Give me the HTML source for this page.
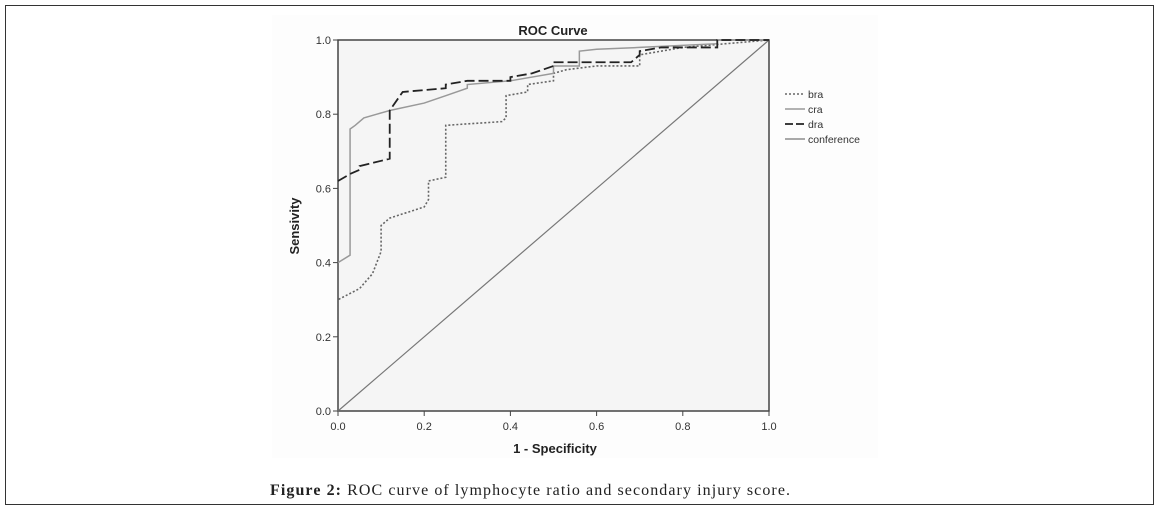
<!DOCTYPE html>
<html><head><meta charset="utf-8"><style>
body{margin:0;background:#fff;width:1159px;height:510px;overflow:hidden}
</style></head><body>
<svg width="1159" height="510" style="position:absolute;left:0;top:0">
<rect x="5.5" y="5.5" width="1148" height="499" fill="#fff" stroke="#333"/>
<rect x="272" y="15" width="606" height="443" fill="#fdfdfd"/>
<rect x="338" y="40" width="431" height="371" fill="#f5f5f5" stroke="#444" stroke-width="1.5"/>
<text x="553" y="35" font-family="Liberation Sans, sans-serif" font-size="13" font-weight="bold" text-anchor="middle" fill="#222">ROC Curve</text>
<g id="axes"></g>
<g id="series"></g>
<text x="555" y="453" font-family="Liberation Sans, sans-serif" font-size="13" font-weight="bold" text-anchor="middle" fill="#222">1 - Specificity</text>
<text transform="translate(299,226) rotate(-90)" font-family="Liberation Sans, sans-serif" font-size="13" font-weight="bold" text-anchor="middle" fill="#222">Sensivity</text>
<g font-family="Liberation Sans, sans-serif" font-size="10.5" fill="#333">
<g><line x1="785" y1="94" x2="805" y2="94" stroke="#666" stroke-width="1.5" stroke-dasharray="2,2"/><text x="808" y="98">bra</text></g>
<g><line x1="785" y1="109" x2="805" y2="109" stroke="#999" stroke-width="1.5"/><text x="808" y="113">cra</text></g>
<g><line x1="785" y1="124" x2="805" y2="124" stroke="#222" stroke-width="1.8" stroke-dasharray="8,3"/><text x="808" y="128">dra</text></g>
<g><line x1="785" y1="139" x2="805" y2="139" stroke="#777" stroke-width="1.2"/><text x="808" y="143">conference</text></g>
</g>
<text x="270" y="495" font-family="Liberation Serif, serif" font-size="16" fill="#222" textLength="520" lengthAdjust="spacing"><tspan font-weight="bold">Figure 2:</tspan> ROC curve of lymphocyte ratio and secondary injury score.</text>
</svg>
<script>
const ticks=[0,0.2,0.4,0.6,0.8,1.0];
const tickLabels=["0.0","0.2","0.4","0.6","0.8","1.0"];
const braX=[0,0,0.05,0.08,0.1,0.1,0.12,0.2,0.21,0.21,0.25,0.25,0.38,0.39,0.39,0.44,0.44,0.5,0.5,0.53,0.6,0.7,0.7,0.8,0.9,1];
const braY=[0,0.30,0.33,0.37,0.43,0.5,0.52,0.55,0.57,0.62,0.63,0.77,0.78,0.79,0.85,0.86,0.88,0.89,0.91,0.92,0.93,0.93,0.96,0.98,0.99,1];
const craX=[0,0.028,0.028,0.04,0.06,0.09,0.12,0.2,0.25,0.3,0.3,0.4,0.5,0.5,0.56,0.56,0.6,0.7,0.88,0.88,1];
const craY=[0.40,0.42,0.76,0.77,0.79,0.80,0.81,0.83,0.85,0.87,0.88,0.89,0.91,0.93,0.93,0.97,0.975,0.98,0.99,1,1];
const draX=[0,0.03,0.05,0.05,0.12,0.12,0.15,0.25,0.25,0.3,0.4,0.4,0.45,0.5,0.5,0.68,0.7,0.7,0.75,0.88,0.88,1];
const draY=[0.62,0.64,0.65,0.66,0.68,0.81,0.86,0.87,0.88,0.89,0.89,0.90,0.91,0.93,0.94,0.94,0.96,0.97,0.98,0.98,1,1];
const refX=[0,1], refY=[0,1];
const NS="http://www.w3.org/2000/svg";
const sx=v=>338+v*431, sy=v=>411-v*371;
const axes=document.getElementById('axes');
ticks.forEach((t,i)=>{
 let l=document.createElementNS(NS,'line');
 l.setAttribute('x1',sx(t));l.setAttribute('x2',sx(t));l.setAttribute('y1',411);l.setAttribute('y2',416);l.setAttribute('stroke','#444');
 
 
 axes.appendChild(l);
 let tx=document.createElementNS(NS,'text');
 tx.setAttribute('x',sx(t));tx.setAttribute('y',430);tx.setAttribute('text-anchor','middle');
 tx.setAttribute('font-family','Liberation Sans, sans-serif');tx.setAttribute('font-size','11');tx.setAttribute('fill','#333');
 tx.textContent=tickLabels[i];
 
 
 axes.appendChild(tx);
 let m=document.createElementNS(NS,'line');
 m.setAttribute('x1',333);m.setAttribute('x2',338);m.setAttribute('y1',sy(t));m.setAttribute('y2',sy(t));m.setAttribute('stroke','#444');
 
 
 axes.appendChild(m);
 let ty=document.createElementNS(NS,'text');
 ty.setAttribute('x',331);ty.setAttribute('y',sy(t)+4);ty.setAttribute('text-anchor','end');
 ty.setAttribute('font-family','Liberation Sans, sans-serif');ty.setAttribute('font-size','11');ty.setAttribute('fill','#333');
 ty.textContent=tickLabels[i];
 
 
 axes.appendChild(ty);
});
const g=document.getElementById('series');
function line(xs,ys,stroke,w,dash,name){
 const p=document.createElementNS(NS,'polyline');
 p.setAttribute('points',xs.map((x,i)=>sx(x)+','+sy(ys[i])).join(' '));
 p.setAttribute('fill','none');p.setAttribute('stroke',stroke);p.setAttribute('stroke-width',w);
 if(dash)p.setAttribute('stroke-dasharray',dash);
 
 
 g.appendChild(p);
}
line(refX,refY,'#777',1.2,null,'conference-line');
line(braX,braY,'#666',1.6,'2,2','bra-curve');
line(craX,craY,'#999',1.5,null,'cra-curve');
line(draX,draY,'#222',1.8,'10,4','dra-curve');
</script>
</body></html>
